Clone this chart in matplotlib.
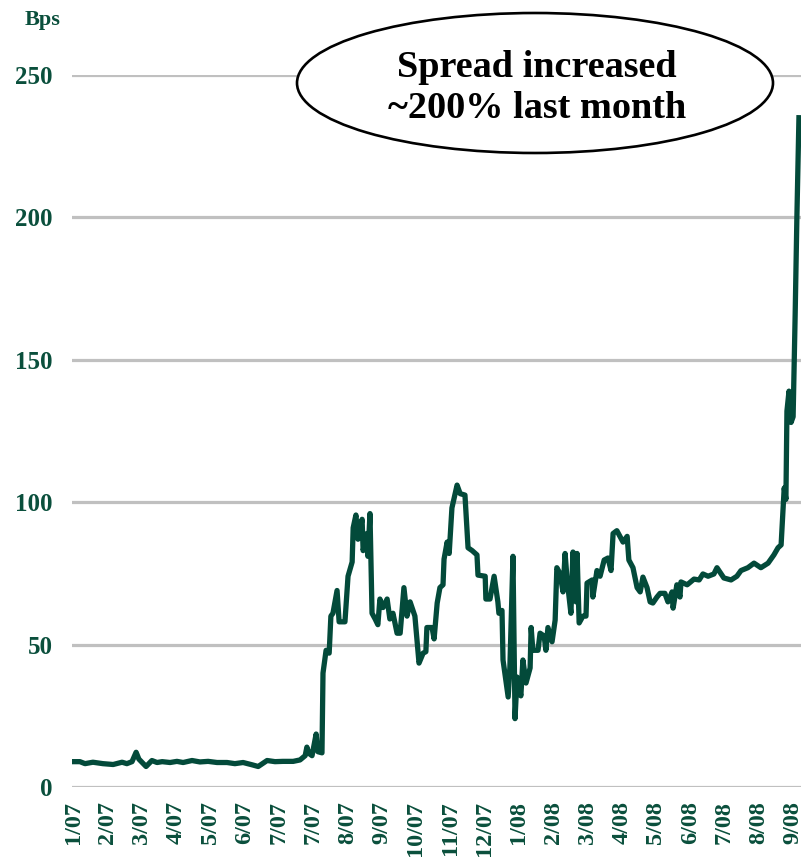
import matplotlib
matplotlib.use('Agg')
import matplotlib.pyplot as plt
from matplotlib.patches import Ellipse

# spread in bps, x in tick-slot units (one slot per axis label)
x_pos = [-0.04, 0.20, 0.35, 0.58, 0.87, 1.17, 1.43, 1.57, 1.72, 1.84, 1.92, 2.13, 2.30, 2.45, 2.60,
         2.83, 3.03, 3.21, 3.47, 3.70, 3.94, 4.20, 4.49, 4.72, 4.96, 5.22, 5.40, 5.66, 5.89, 6.12,
         6.42, 6.62, 6.77, 6.82, 6.88, 6.97, 7.09, 7.14, 7.26, 7.29, 7.38, 7.47, 7.52, 7.58, 7.70,
         7.76, 7.93, 8.02, 8.14, 8.17, 8.25, 8.31, 8.43, 8.46, 8.57, 8.60, 8.66, 8.72, 8.81, 8.89,
         8.95, 9.04, 9.16, 9.24, 9.33, 9.45, 9.54, 9.65, 9.74, 9.83, 9.97, 10.09, 10.21, 10.29, 10.32,
         10.47, 10.53, 10.62, 10.70, 10.79, 10.82, 10.91, 10.97, 11.05, 11.20, 11.29, 11.43, 11.52,
         11.64, 11.78, 11.81, 12.02, 12.04, 12.16, 12.28, 12.39, 12.42, 12.51, 12.54, 12.69, 12.74,
         12.83, 12.89, 12.95, 13.06, 13.12, 13.21, 13.33, 13.36, 13.41, 13.56, 13.62, 13.74, 13.79,
         13.85, 13.97, 14.06, 14.11, 14.20, 14.29, 14.35, 14.41, 14.52, 14.58, 14.67, 14.70, 14.76,
         14.87, 14.96, 14.99, 15.14, 15.16, 15.28, 15.37, 15.49, 15.60, 15.69, 15.75, 15.86, 15.95,
         16.04, 16.16, 16.21, 16.33, 16.45, 16.54, 16.62, 16.74, 16.83, 16.91, 17.03, 17.12, 17.26,
         17.35, 17.47, 17.50, 17.61, 17.70, 17.73, 17.91, 18.11, 18.26, 18.37, 18.52, 18.69, 18.78,
         18.90, 18.98, 19.19, 19.36, 19.48, 19.68, 19.86, 20.06, 20.27, 20.44, 20.56, 20.65, 20.71,
         20.74, 20.79, 20.82, 20.88, 20.94, 21.00, 21.06, 21.11, 21.17]
spread_bps = [8.9, 8.9, 8.2, 8.7, 8.2, 7.9, 8.7, 8.2, 8.9, 12.2, 9.8, 7.2, 9.3, 8.6, 8.9,
              8.6, 9.0, 8.6, 9.3, 8.8, 9.0, 8.6, 8.6, 8.2, 8.6, 7.8, 7.2, 9.3, 8.9, 9.0,
              9.0, 9.5, 11, 14, 11.8, 11, 18.6, 12.4, 12, 40, 48, 47, 60, 61, 69,
              58, 58, 74, 79, 91, 95.5, 87, 94, 83, 89, 81, 96, 61, 59, 57,
              66, 63, 66, 59, 61, 54, 54, 70, 60, 65, 60, 43.5, 47, 47.5, 56,
              56, 52, 64.6, 70, 71, 80, 86, 82, 98, 106, 103, 102.5, 84,
              83, 81.5, 74.4, 74, 66, 66, 74, 65, 61, 62, 44.6, 31.6, 42,
              81, 24, 38.6, 32, 44.6, 36.5, 41.8, 56, 48, 48, 54, 53, 48,
              56, 51, 58.6, 77, 75, 68.5, 82, 72.7, 61, 82.5, 65, 82, 57.6,
              60, 60, 71.6, 72.7, 66.7, 76, 74, 79.7, 80.4, 76, 89, 90, 88,
              86, 88, 79.7, 77, 70, 68.5, 73.7, 70, 65, 64.6, 66.7, 68, 68,
              65, 68.5, 62.8, 71, 66.7, 72, 71, 73, 72.7, 74.8, 74, 74.8, 77,
              74.8, 73.4, 72.7, 74, 76, 77, 78.6, 77, 78.6, 81.5, 84, 85, 98,
              105, 101, 132, 139, 128, 130, 166, 200, 235]

tick_labels = ['1/07', '2/07', '3/07', '4/07', '5/07', '6/07', '7/07', '7/07', '8/07', '9/07',
               '10/07', '11/07', '12/07', '1/08', '2/08', '3/08', '4/08', '5/08', '6/08', '7/08',
               '8/08', '9/08']
y_ticks = [0, 50, 100, 150, 200, 250]

green = '#034a3a'
text_green = '#0a4f3c'

plt.rcParams['font.family'] = ['Liberation Serif', 'DejaVu Serif']

fig = plt.figure(figsize=(8.01, 8.57), dpi=100)
ax = fig.add_axes([72 / 801, 70 / 857, 729 / 801, 712 / 857])

for y in y_ticks:
    ax.axhline(y, color='#c0c0c0', lw=2.3, zorder=1)
ax.plot(x_pos, spread_bps, color=green, lw=3.8, zorder=3, solid_joinstyle='round')

ax.set_xlim(-0.03, 21.23)
ax.set_ylim(0, 250)
ax.set_xticks(range(len(tick_labels)))
ax.set_xticklabels(tick_labels, rotation=90, fontsize=17.5, fontweight='bold', color=text_green)
ax.set_yticks(y_ticks)
ax.set_yticklabels([str(v) for v in y_ticks], fontsize=18, fontweight='bold', color=text_green)
ax.tick_params(axis='both', length=0)
ax.tick_params(axis='x', pad=10)
ax.tick_params(axis='y', pad=14)
for s in ax.spines.values():
    s.set_visible(False)

fig.text(43 / 801, 1 - 20 / 857, 'Bps', ha='center', va='center', fontsize=16,
         fontweight='bold', color=text_green)

# callout bubble
ell = Ellipse((535 / 801, 1 - 83 / 857), 476 / 801, 140 / 857, transform=fig.transFigure,
              facecolor='white', edgecolor='black', lw=1.9, zorder=5)
fig.patches.append(ell)
fig.text(537 / 801, 1 - 88 / 857, 'Spread increased\n~200% last month', ha='center', va='center',
         fontsize=27.5, fontweight='bold', color='black', linespacing=1.2, zorder=6)

fig.savefig('out.png', dpi=100)
